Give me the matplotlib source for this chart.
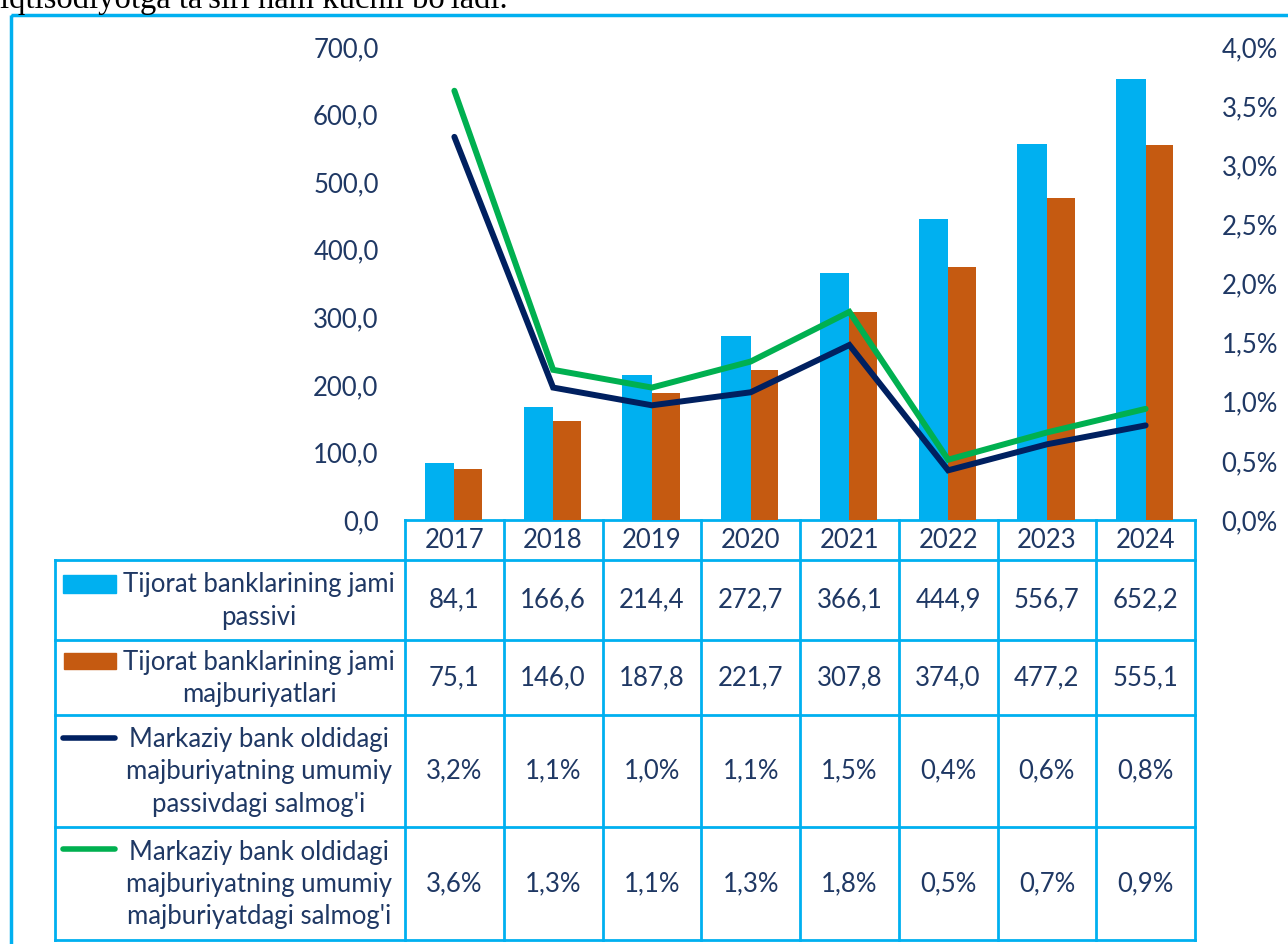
import numpy as np
import matplotlib
matplotlib.use("Agg")
import matplotlib.pyplot as plt
from matplotlib import transforms
from matplotlib.patches import Rectangle

# data
years = ["2017", "2018", "2019", "2020", "2021", "2022", "2023", "2024"]
passiv = [84.1, 166.6, 214.4, 272.7, 366.1, 444.9, 556.7, 652.2]
majburiyat = [75.1, 146.0, 187.8, 221.7, 307.8, 374.0, 477.2, 555.1]
share_passiv = [3.24, 1.12, 0.97, 1.08, 1.48, 0.42, 0.64, 0.80]
share_majb = [3.63, 1.27, 1.12, 1.34, 1.76, 0.51, 0.74, 0.94]
row_labels = [
    "Tijorat banklarining jami\npassivi",
    "Tijorat banklarining jami\nmajburiyatlari",
    "Markaziy bank oldidagi\nmajburiyatning umumiy\npassivdagi salmog'i",
    "Markaziy bank oldidagi\nmajburiyatning umumiy\nmajburiyatdagi salmog'i",
]
top_text = "iqtisodiyotga ta'siri ham kuchli bo'ladi."

BLUE = "#00B0F0"
ORANGE = "#C55A11"
NAVY = "#002060"
GREEN = "#00B050"
TXT = "#1F3864"
FONT = "Lato"
FS = 18.5

plt.rcParams["font.family"] = [FONT, "DejaVu Sans"]

W, H = 1288, 944
fig = plt.figure(figsize=(W / 100, H / 100), dpi=100)


def box(x0, y0, x1, y1):
    return [x0 / W, 1 - y1 / H, (x1 - x0) / W, (y1 - y0) / H]


def comma(v, fmt):
    return format(v, fmt).replace(".", ",")


# overlay in pixel coordinates for table and frame
tab = fig.add_axes([0, 0, 1, 1])
tab.set_xlim(0, W)
tab.set_ylim(H, 0)
tab.axis("off")

ax = fig.add_axes(box(405, 47, 1195, 520))
x = np.arange(len(years))
ax.bar(x - 0.15, passiv, 0.3, color=BLUE, zorder=2)
ax.bar(x + 0.14, majburiyat, 0.28, color=ORANGE, zorder=2)
ax.set_xlim(-0.5, len(years) - 0.5)
ax.set_ylim(0, 700)
ax.set_yticks(np.arange(0, 701, 100))
ax.set_yticklabels([comma(v, ".1f") for v in np.arange(0, 701, 100)])
ax.set_xticks([])
ax.tick_params(axis="y", length=0, pad=19, labelsize=FS, labelcolor=TXT)
for s in ax.spines.values():
    s.set_visible(False)
ax.patch.set_alpha(0)

ax2 = ax.twinx()
ax2.plot(x, np.array(share_passiv) / 100, color=NAVY, lw=4.3, solid_capstyle="round", solid_joinstyle="miter", zorder=3)
ax2.plot(x, np.array(share_majb) / 100, color=GREEN, lw=4.3, solid_capstyle="round", solid_joinstyle="miter", zorder=3)
ax2.set_ylim(0, 0.04)
pct = np.arange(0, 4.01, 0.5)
ax2.set_yticks(pct / 100)
ax2.set_yticklabels([comma(v, ".1f") + "%" for v in pct])
ax2.tick_params(axis="y", length=0, pad=19, labelsize=FS, labelcolor=TXT)
for s in ax2.spines.values():
    s.set_visible(False)

# table
blend = transforms.blended_transform_factory(ax.transData, tab.transData)
rows_y = [520, 560, 640, 715, 827, 940]
lw = 2
tab.plot([405, 1195], [rows_y[0]] * 2, color=BLUE, lw=lw)
for yy in rows_y[1:]:
    tab.plot([55, 1195], [yy, yy], color=BLUE, lw=lw)
tab.plot([55, 55], [560, 940], color=BLUE, lw=lw)
for e in np.arange(len(years) + 1) - 0.5:
    tab.plot([e, e], [520, 940], color=BLUE, lw=lw, transform=blend)

for i, yr in enumerate(years):
    tab.text(i, 541, yr, transform=blend, ha="center", va="center", fontsize=FS, color=TXT)

series = [
    [comma(v, ".1f") for v in passiv],
    [comma(v, ".1f") for v in majburiyat],
    [comma(v, ".1f") + "%" for v in share_passiv],
    [comma(v, ".1f") + "%" for v in share_majb],
]
for r, vals in enumerate(series):
    yc = (rows_y[r + 1] + rows_y[r + 2]) / 2
    for i, v in enumerate(vals):
        tab.text(i, yc, v, transform=blend, ha="center", va="center", fontsize=FS, color=TXT)
    tab.text(259, yc + 1, row_labels[r], ha="center", va="center", multialignment="center",
             fontsize=FS, color=TXT, linespacing=1.36)

# legend keys in the table
tab.add_patch(Rectangle((63, 575), 53, 18, color=BLUE))
tab.add_patch(Rectangle((64, 653), 52, 16, color=ORANGE))
tab.plot([63, 115], [738, 738], color=NAVY, lw=4, solid_capstyle="round")
tab.plot([63, 115], [849, 849], color=GREEN, lw=4, solid_capstyle="round")

# outer frame
tab.add_patch(Rectangle((11, 15), 1300, 960, fill=False, edgecolor=BLUE, lw=2.5, clip_on=False))

# cut-off text from the page above
fig.text(0, 1 - 8 / H, top_text, family="Liberation Serif", fontsize=23.5, color="black", va="baseline")

fig.savefig("out.png", dpi=100)
